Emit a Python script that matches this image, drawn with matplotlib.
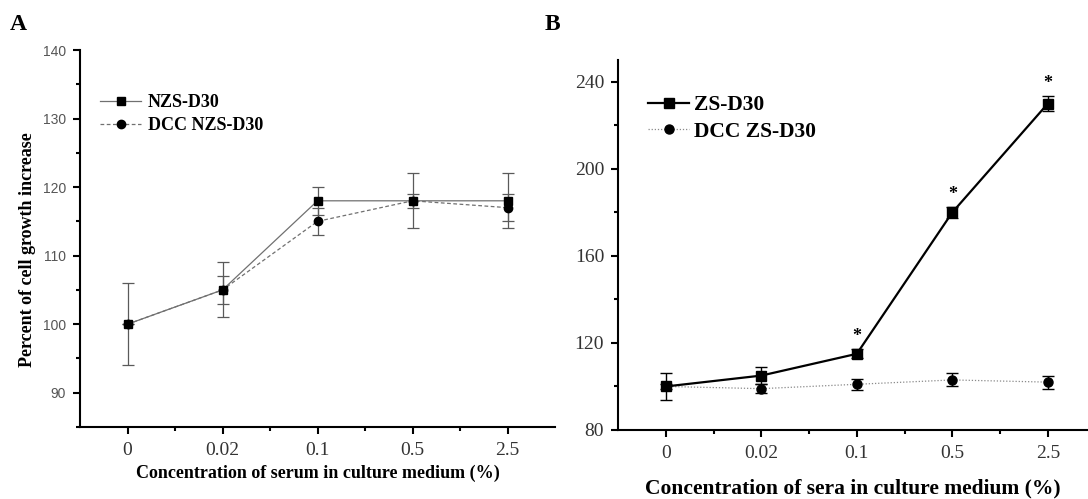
import matplotlib
matplotlib.use("Agg")
import matplotlib.pyplot as plt
from matplotlib.ticker import MultipleLocator, FixedLocator

### DONNEES
categories = ['0', '0.02', '0.1', '0.5', '2.5']

# panneau A
nzs = [100, 105, 118, 118, 118]
nzs_err = [6, 4, 2, 4, 4]
dcc_nzs = [100, 105, 115, 118, 117]
dcc_nzs_err = [0, 2, 2, 1, 2]

# panneau B
zs = [100, 105, 115, 180, 230]
zs_err = [6, 4, 2, 2.5, 3.5]
dcc_zs = [100, 99, 101, 103, 102]
dcc_zs_err = [1, 2, 2.5, 3, 3]
etoiles = [2, 3, 4]  # points significatifs (*)

serif = 'Liberation Serif'
sans = 'Liberation Sans'
x = list(range(len(categories)))

fig = plt.figure(figsize=(10.88, 4.99), dpi=100)

### PANNEAU A
axA = fig.add_axes([80/1088, (499-427)/499, 475/1088, 377/499])
gris = '#5a5a5a'
axA.errorbar(x, nzs, yerr=nzs_err, fmt='none', ecolor=gris, elinewidth=0.9, capsize=4, capthick=0.9)
axA.errorbar(x, dcc_nzs, yerr=dcc_nzs_err, fmt='none', ecolor=gris, elinewidth=0.9, capsize=4, capthick=0.9)
axA.plot(x, dcc_nzs, ls=(0, (3, 2)), color='#707070', lw=0.9, marker='o', ms=6, mfc='black', mec='black', label='DCC NZS-D30')
axA.plot(x, nzs, ls='-', color='#707070', lw=0.9, marker='s', ms=6, mfc='black', mec='black', label='NZS-D30')
axA.set_xlim(-0.5, 4.5)
axA.set_ylim(85, 140)
axA.yaxis.set_major_locator(MultipleLocator(10))
axA.yaxis.set_minor_locator(MultipleLocator(5))
axA.set_xticks(x)
axA.set_xticklabels(categories)
axA.xaxis.set_minor_locator(FixedLocator([0.5, 1.5, 2.5, 3.5]))
for lab in axA.get_xticklabels():
    lab.set_fontfamily(serif)
    lab.set_fontsize(14)
    lab.set_color('#333333')
for lab in axA.get_yticklabels():
    lab.set_fontfamily(sans)
    lab.set_fontsize(10)
    lab.set_color('#555555')
axA.tick_params(axis='both', which='major', direction='out', length=5, width=1.5, pad=5)
axA.tick_params(axis='both', which='minor', direction='out', length=3, width=1.5)
axA.tick_params(axis='x', which='major', pad=6)
axA.spines['top'].set_visible(False)
axA.spines['right'].set_visible(False)
axA.spines['left'].set_linewidth(1.5)
axA.spines['bottom'].set_linewidth(1.5)
axA.set_ylabel('Percent of cell growth increase', fontfamily=serif, fontweight='bold', fontsize=13)
axA.yaxis.set_label_coords(-0.092, 0.47)
axA.set_xlabel('Concentration of serum in culture medium (%)', fontfamily=serif, fontweight='bold', fontsize=13)
axA.xaxis.set_label_coords(0.5, -0.1)
h, l = axA.get_legend_handles_labels()
axA.legend(h[::-1], l[::-1], loc='upper left', bbox_to_anchor=(0.042, 0.882), frameon=False,
           prop={'family': serif, 'weight': 'bold', 'size': 13}, handlelength=2.3,
           handletextpad=0.35, labelspacing=0.3, borderpad=0, borderaxespad=0, numpoints=1)

### PANNEAU B
axB = fig.add_axes([618/1088, (499-430)/499, 470/1088, 370/499])
axB.errorbar(x, dcc_zs, yerr=dcc_zs_err, fmt='none', ecolor='black', elinewidth=1, capsize=4, capthick=1)
axB.errorbar(x, zs, yerr=zs_err, fmt='none', ecolor='black', elinewidth=1, capsize=4, capthick=1)
axB.plot(x, dcc_zs, ls=(0, (1, 1.5)), color='#8a8a8a', lw=0.9, marker='o', ms=6.5, mfc='black', mec='black', label='DCC ZS-D30')
axB.plot(x, zs, ls='-', color='black', lw=1.6, marker='s', ms=6.5, mfc='black', mec='black', label='ZS-D30')
for i in etoiles:
    axB.text(x[i], zs[i] + zs_err[i] + 2, '*', ha='center', va='bottom', fontsize=13,
             fontweight='bold', fontfamily=serif)
axB.set_xlim(-0.5, 4.42)
axB.set_ylim(80, 250)
axB.yaxis.set_major_locator(FixedLocator([80, 120, 160, 200, 240]))
axB.yaxis.set_minor_locator(FixedLocator([100, 140, 180, 220]))
axB.set_xticks(x)
axB.set_xticklabels(categories)
axB.xaxis.set_minor_locator(FixedLocator([0.5, 1.5, 2.5, 3.5]))
for lab in axB.get_xticklabels() + axB.get_yticklabels():
    lab.set_fontfamily(serif)
    lab.set_fontsize(14)
    lab.set_color('#333333')
axB.tick_params(axis='both', which='major', direction='out', length=5, width=1.5, pad=5)
axB.tick_params(axis='both', which='minor', direction='out', length=3, width=1.5)
axB.tick_params(axis='x', which='major', pad=6)
axB.spines['top'].set_visible(False)
axB.spines['right'].set_visible(False)
axB.spines['left'].set_linewidth(1.5)
axB.spines['bottom'].set_linewidth(1.5)
axB.set_xlabel('Concentration of sera in culture medium (%)', fontfamily=serif, fontweight='bold', fontsize=15.5)
axB.xaxis.set_label_coords(0.5, -0.13)
h, l = axB.get_legend_handles_labels()
axB.legend(h[::-1], l[::-1], loc='upper left', bbox_to_anchor=(0.064, 0.905), frameon=False,
           prop={'family': serif, 'weight': 'bold', 'size': 15.5}, handlelength=1.9,
           handletextpad=0.25, labelspacing=0.3, borderpad=0, borderaxespad=0, numpoints=1)

### LETTRES DES PANNEAUX
fig.text(10/1088, 1 - 30/499, 'A', fontfamily=serif, fontweight='bold', fontsize=17)
fig.text(545/1088, 1 - 30/499, 'B', fontfamily=serif, fontweight='bold', fontsize=17)

fig.savefig('out.png', dpi=100)
